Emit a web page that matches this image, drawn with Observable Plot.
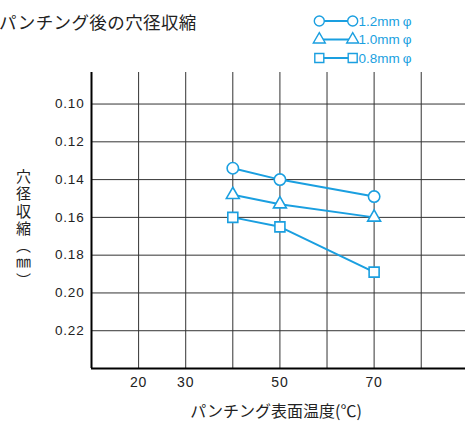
<!DOCTYPE html>
<html>
<head>
<meta charset="utf-8">
<script src="https://cdn.jsdelivr.net/npm/d3@7"></script>
<script src="https://cdn.jsdelivr.net/npm/@observablehq/plot@0.6"></script>
<style>
  body { margin: 0; background: #fff; }
  #wrap { position: relative; width: 465px; height: 421px; overflow: hidden;
          font-family: "Liberation Sans", "Noto Sans CJK JP", sans-serif; color: #222; }
  #chart { position: absolute; left: 0; top: 0; }
  #title { position: absolute; left: -1px; top: 12px; font-family: "Noto Sans CJK JP", sans-serif;
           font-size: 17.5px; letter-spacing: 0.4px; color: #222; white-space: nowrap; line-height: 1.1; }
  #ylabel { position: absolute; left: 13px; top: 169px; writing-mode: vertical-rl;
            font-family: "Noto Sans CJK JP", sans-serif; font-size: 15px; letter-spacing: 2.3px; color: #222; }
  #xlabel { position: absolute; left: 126px; width: 300px; top: 402px; text-align: center;
            font-family: "Noto Sans CJK JP", sans-serif; font-size: 16px; line-height: 17px; color: #222; white-space: nowrap; }
  #legend { position: absolute; left: 300px; top: 8px; }
  #chart text { letter-spacing: 0.8px; }
</style>
</head>
<body>
<div id="wrap">
  <div id="chart"></div>
  <div id="title">パンチング後の穴径収縮</div>
  <div id="ylabel">穴径収縮（㎜）</div>
  <div id="xlabel">パンチング表面温度(℃)</div>
  <div id="legend"></div>
</div>
<script>
// ---- data ----
const temps = [40, 50, 70];
const shrink12 = [0.134, 0.140, 0.149];
const shrink10 = [0.148, 0.153, 0.160];
const shrink08 = [0.160, 0.165, 0.189];
const seriesLabels = ["1.2mm", "1.0mm", "0.8mm"];
const seriesSymbols = ["circle", "triangle", "square"];
const xTicks = [20, 30, 50, 70];
const xGrid = [20, 30, 40, 50, 60, 70, 80];
const yTicks = [0.10, 0.12, 0.14, 0.16, 0.18, 0.20, 0.22];

const blue = "#1a9fe0";
const ink = "#222";
const seriesValues = [shrink12, shrink10, shrink08];
const symbolR = {circle: 5.7, triangle: 4.8, square: 5.64};

const series = seriesValues.map((vals, i) =>
  temps.map((t, j) => ({temp: t, value: vals[j], name: seriesLabels[i], symbol: seriesSymbols[i]})));

const marks = [
  Plot.ruleX(xGrid, {stroke: "#333", strokeWidth: 1}),
  Plot.ruleY(yTicks, {stroke: "#333", strokeWidth: 1}),
  Plot.ruleX([10], {stroke: "#000", strokeWidth: 2}),
  Plot.ruleY([0.24], {stroke: "#000", strokeWidth: 2}),
  Plot.axisX({ticks: xTicks, tickSize: 0, tickPadding: 9, fontSize: 14, label: null, fill: ink}),
  Plot.axisY({ticks: yTicks, tickSize: 0, tickPadding: 7, fontSize: 13.5, label: null,
              tickFormat: d3.format(".2f"), fill: ink})
];
series.forEach(s => {
  marks.push(Plot.line(s, {x: "temp", y: "value", stroke: blue, strokeWidth: 2}));
});
series.forEach(s => {
  const sym = s[0].symbol;
  marks.push(Plot.dot(s, {x: "temp", y: "value", symbol: () => sym, r: symbolR[sym],
    stroke: blue, fill: "#fff", strokeWidth: 1.6}));
});

const chart = Plot.plot({
  width: 465, height: 421,
  marginLeft: 91, marginRight: 0, marginTop: 72, marginBottom: 53,
  x: {domain: [10, 89.4], axis: null},
  y: {domain: [0.0833, 0.24], reverse: true, axis: null},
  symbol: {type: "identity"},
  style: {fontFamily: '"Liberation Sans", "Noto Sans CJK JP", sans-serif', background: "transparent", overflow: "visible"},
  marks
});
document.getElementById("chart").appendChild(chart);

// ---- legend (built from the same series names / symbols) ----
const lg = d3.select("#legend").append("svg").attr("width", 165).attr("height", 62)
  .style("overflow", "visible");
const legendSizes = {circle: Math.PI * 25, triangle: 62, square: 81};
const symMap = {circle: d3.symbolCircle, triangle: d3.symbolTriangle, square: d3.symbolSquare};
seriesLabels.forEach((lab, i) => {
  const y = 13 + i * 18.5;
  const g = lg.append("g");
  g.append("line").attr("x1", 19).attr("x2", 53).attr("y1", y).attr("y2", y)
    .attr("stroke", blue).attr("stroke-width", 2);
  [19.3, 52.7].forEach(x => {
    g.append("path").attr("d", d3.symbol(symMap[seriesSymbols[i]], legendSizes[seriesSymbols[i]])())
      .attr("transform", `translate(${x},${y})`)
      .attr("fill", "#fff").attr("stroke", blue).attr("stroke-width", 1.4);
  });
  const t = g.append("text").attr("x", 58.5).attr("y", y).attr("dy", "0.36em")
    .attr("fill", blue).attr("font-size", 13.5)
    .attr("font-family", '"Liberation Sans", sans-serif');
  t.append("tspan").text(lab);
  t.append("tspan").attr("dx", 3).text("φ");
});
</script>
</body>
</html>
